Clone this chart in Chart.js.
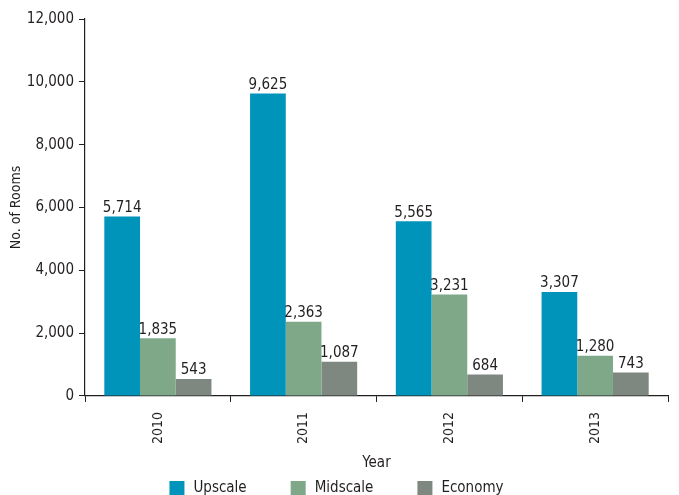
<!DOCTYPE html>
<html>
<head>
<meta charset="utf-8">
<script src="https://cdn.jsdelivr.net/npm/chart.js@4"></script>
<style>
  html, body { margin: 0; padding: 0; background: #fff; }
  #wrap { width: 679px; height: 495px; }
</style>
</head>
<body>
<div id="wrap"><canvas id="roomsChart" width="679" height="495"></canvas></div>
<script>
const years = ['2010', '2011', '2012', '2013'];
const upscale = [5714, 9625, 5565, 3307];
const midscale = [1835, 2363, 3231, 1280];
const economy = [543, 1087, 684, 743];
const yTicks = [0, 2000, 4000, 6000, 8000, 10000, 12000];

const FONT = '"DejaVu Sans Condensed", "DejaVu Sans", sans-serif';
const INK = '#231f20';

// value printed above every bar
const barValues = {
  id: 'barValues',
  afterDatasetsDraw(chart) {
    const ctx = chart.ctx;
    ctx.save();
    ctx.font = '15px ' + FONT;
    ctx.fillStyle = INK;
    ctx.textAlign = 'center';
    ctx.textBaseline = 'bottom';
    chart.data.datasets.forEach((ds, i) => {
      chart.getDatasetMeta(i).data.forEach((bar, j) => {
        ctx.fillText(ds.data[j].toLocaleString('en-US'), bar.x, bar.y - 1);
      });
    });
    ctx.restore();
  }
};

// legend row along the bottom edge, wider spacing than the built-in one
const bottomLegend = {
  id: 'bottomLegend',
  afterDraw(chart) {
    const ctx = chart.ctx;
    const box = 15, gapText = 9, gapItem = 44;
    ctx.save();
    ctx.font = '15px ' + FONT;
    ctx.textBaseline = 'middle';
    ctx.textAlign = 'left';
    const items = chart.data.datasets.map(ds => ({
      text: ds.label,
      color: ds.backgroundColor,
      w: box + gapText + ctx.measureText(ds.label).width
    }));
    const total = items.reduce((s, it) => s + it.w, 0) + gapItem * (items.length - 1);
    let x = (chart.width - total) / 2 - 3;
    const top = chart.height - 14;
    items.forEach(it => {
      ctx.fillStyle = it.color;
      ctx.fillRect(x, top, box, box);
      ctx.fillStyle = INK;
      ctx.fillText(it.text, x + box + gapText, top + 7);
      x += it.w + gapItem;
    });
    ctx.restore();
  }
};

const chart = document.getElementById('roomsChart');

let roomsChart = new Chart(chart, {
  type: 'bar',
  data: {
    labels: years,
    datasets: [
      { label: 'Upscale', data: upscale, backgroundColor: '#0094bb' },
      { label: 'Midscale', data: midscale, backgroundColor: '#7ea888' },
      { label: 'Economy', data: economy, backgroundColor: '#7e8780' }
    ]
  },
  options: {
    responsive: false,
    animation: false,
    layout: { padding: { top: 19, right: 11, left: 8, bottom: 23 } },
    datasets: {
      bar: { categoryPercentage: 0.735, barPercentage: 1.0, borderWidth: 0 }
    },
    plugins: {
      tooltip: { enabled: false },
      legend: { display: false }
    },
    scales: {
      x: {
        offset: true,
        grid: {
          offset: true,
          drawOnChartArea: false,
          drawTicks: true,
          tickLength: 6,
          color: INK
        },
        border: { color: INK, width: 1.2 },
        ticks: {
          color: INK,
          font: { family: FONT, size: 14 },
          minRotation: 90,
          maxRotation: 90,
          padding: 10
        },
        title: {
          display: true,
          text: 'Year',
          color: INK,
          font: { family: FONT, size: 15 },
          padding: { top: 0, bottom: 0 }
        }
      },
      y: {
        min: 0,
        max: 12000,
        afterBuildTicks(axis) {
          axis.ticks = yTicks.map(v => ({ value: v }));
        },
        grid: {
          drawOnChartArea: false,
          drawTicks: true,
          tickLength: 6,
          color: INK
        },
        border: { color: INK, width: 1.2 },
        ticks: {
          color: INK,
          font: { family: FONT, size: 15 },
          padding: 5,
          callback: v => v.toLocaleString('en-US')
        },
        title: {
          display: true,
          text: 'No. of Rooms',
          color: INK,
          font: { family: FONT, size: 14 },
          padding: { top: 0, bottom: -3 }
        }
      }
    }
  },
  plugins: [barValues, bottomLegend]
});
</script>
</body>
</html>
